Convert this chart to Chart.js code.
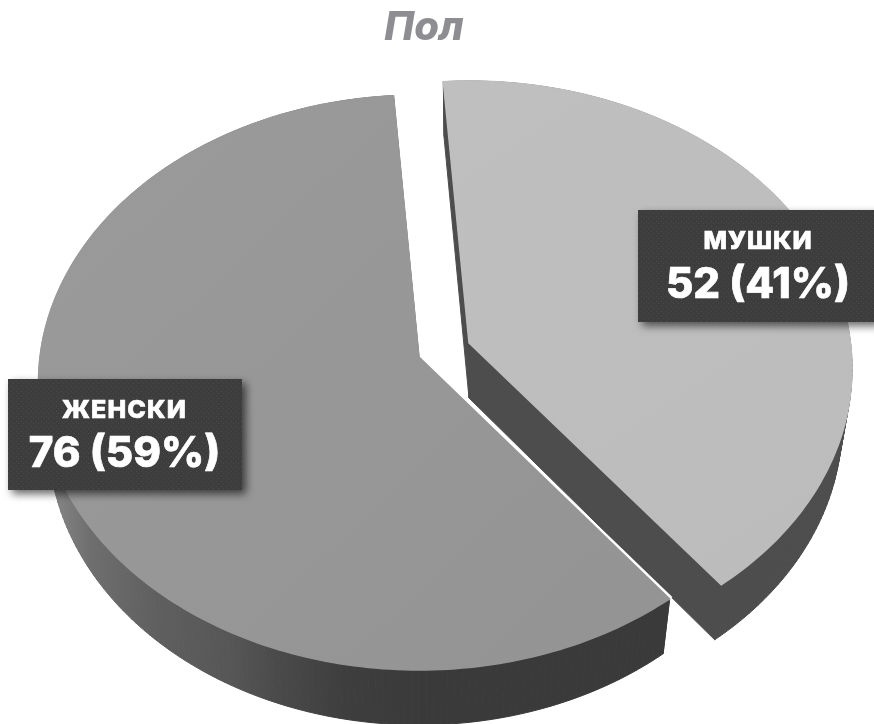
<!DOCTYPE html>
<html>
<head>
<meta charset="utf-8">
<script src="https://cdn.jsdelivr.net/npm/chart.js@4"></script>
<style>
    html, body { margin: 0; padding: 0; background: #fff; overflow: hidden; }
    canvas { display: block; }
</style>
</head>
<body>
<canvas id="pieChart" width="874" height="724"></canvas>
<script>
const titleText = 'Пол';
const categories = ['МУШКИ', 'ЖЕНСКИ'];
const values = [52, 76];

// look of the tilted pie
const tiltY = 285.2;
const perspective = 0.0887;
const depth = 55;
const bottomShrink = 0.974;
const sliceCentres = [{x: 469, y: 343, r: 381.5}, {x: 419, y: 357, r: 379}];
const labelBoxes = [{x: 638, y: 210, w: 240, h: 112, textX: 758, spacing: 1}, {x: 8, y: 379, w: 234, h: 111, textX: 124.5, spacing: 1.2}];

// circle angle -> screen point, nearer edge drawn larger
function project(centre, angle) {
    const u = Math.cos(angle), v = Math.sin(angle);
    const w = 1 - perspective * v;
    return {x: centre.x + centre.r * u / w, y: centre.y + tiltY * v / w};
}

function sliceOutline(centre, arc) {
    const pts = [{x: centre.x, y: centre.y}];
    const steps = Math.ceil((arc.endAngle - arc.startAngle) * 180 / Math.PI);
    for (let i = 0; i <= steps; i++) {
        pts.push(project(centre, arc.startAngle + (arc.endAngle - arc.startAngle) * i / steps));
    }
    return pts;
}

function tracePolygon(ctx, pts) {
    ctx.beginPath();
    pts.forEach((p, i) => i ? ctx.lineTo(p.x, p.y) : ctx.moveTo(p.x, p.y));
    ctx.closePath();
}

function drawWall(ctx, centre, pts, style) {
    const lower = p => ({x: centre.x + (p.x - centre.x) * bottomShrink, y: p.y + depth});
    ctx.fillStyle = style;
    ctx.strokeStyle = style;
    ctx.lineWidth = 1;
    for (let i = 0; i < pts.length; i++) {
        const a = pts[i], b = pts[(i + 1) % pts.length];
        tracePolygon(ctx, [a, b, lower(b), lower(a)]);
        ctx.fill();
        ctx.stroke();
    }
}

function drawTop(ctx, pts, style) {
    tracePolygon(ctx, pts);
    ctx.fillStyle = style;
    ctx.strokeStyle = style;
    ctx.lineWidth = 1.5;
    ctx.fill();
    ctx.stroke();
}

function linear(ctx, x0, y0, x1, y1, stops) {
    const g = ctx.createLinearGradient(x0, y0, x1, y1);
    stops.forEach(s => g.addColorStop(s[0], s[1]));
    return g;
}

function dottedPattern(ctx) {
    const tile = document.createElement('canvas');
    tile.width = 5;
    tile.height = 5;
    const t = tile.getContext('2d');
    t.fillStyle = '#3d3d3d';
    t.fillRect(0, 0, 5, 5);
    t.fillStyle = '#4a4a4a';
    t.fillRect(1, 1, 1, 1);
    t.fillRect(3, 3, 1, 1);
    return ctx.createPattern(tile, 'repeat');
}

const tiltedPie = {
    id: 'tiltedPie',
    beforeDatasetsDraw(chart) {
        const ctx = chart.ctx;
        const arcs = chart.getDatasetMeta(0).data;
        ctx.save();

        // right slice
        const rightPts = sliceOutline(sliceCentres[0], arcs[0]);
        drawWall(ctx, sliceCentres[0], rightPts, '#4d4d4d');
        drawTop(ctx, rightPts, linear(ctx, 470, 80, 800, 580, [[0, '#bfbfbf'], [1, '#bcbcbc']]));

        // left slice
        const leftPts = sliceOutline(sliceCentres[1], arcs[1]);
        drawWall(ctx, sliceCentres[1], leftPts, linear(ctx, 45, 0, 420, 0, [
            [0, '#8a8a8a'], [0.12, '#6e6e6e'], [0.3, '#5f5f5f'], [0.5, '#565656'],
            [0.62, '#4a4a4a'], [0.8, '#3e3e3e'], [1, '#3a3a3a']
        ]));
        const tip = leftPts[1];
        ctx.beginPath();
        ctx.moveTo(sliceCentres[1].x, sliceCentres[1].y);
        ctx.lineTo(tip.x + 1, tip.y);
        ctx.strokeStyle = '#fff';
        ctx.lineWidth = 5;
        ctx.stroke();
        drawTop(ctx, leftPts, linear(ctx, 100, 120, 600, 650, [[0, '#9a9a9a'], [1, '#949494']]));

        ctx.restore();
        return false;
    },
    afterDraw(chart) {
        const ctx = chart.ctx;
        const total = values.reduce((sum, v) => sum + v, 0);
        const pattern = dottedPattern(ctx);
        ctx.save();
        labelBoxes.forEach((box, i) => {
            ctx.save();
            ctx.shadowColor = 'rgba(0,0,0,0.6)';
            ctx.shadowBlur = 8;
            ctx.shadowOffsetX = 4;
            ctx.shadowOffsetY = 4;
            ctx.fillStyle = pattern;
            ctx.fillRect(box.x, box.y, box.w, box.h);
            ctx.restore();

            ctx.fillStyle = '#fff';
            ctx.strokeStyle = '#fff';
            ctx.lineWidth = 0.7;
            ctx.textAlign = 'center';
            ctx.textBaseline = 'alphabetic';
            ctx.font = '800 25px Inter';
            ctx.letterSpacing = box.spacing + 'px';
            ctx.fillText(categories[i], box.textX, box.y + 39);
            ctx.strokeText(categories[i], box.textX, box.y + 39);
            ctx.font = '800 42px Inter';
            ctx.letterSpacing = '0px';
            const line = `${values[i]} (${Math.round(values[i] / total * 100)}%)`;
            ctx.fillText(line, box.textX, box.y + 88);
            ctx.strokeText(line, box.textX, box.y + 88);
        });
        ctx.restore();
    }
};

new Chart(document.getElementById('pieChart').getContext('2d'), {
    type: 'pie',
    data: {
        labels: categories,
        datasets: [{data: values, borderWidth: 0, backgroundColor: ['#bdbdbd', '#979797']}]
    },
    options: {
        responsive: false,
        animation: false,
        rotation: -4.2,
        layout: {padding: {right: 26}},
        plugins: {
            legend: {display: false},
            tooltip: {enabled: false},
            title: {
                display: true,
                text: titleText,
                color: '#8e8e92',
                padding: {top: 4, bottom: 10},
                font: {family: 'Inter', size: 40, weight: '800', style: 'italic'}
            }
        }
    },
    plugins: [tiltedPie]
});
</script>
</body>
</html>
